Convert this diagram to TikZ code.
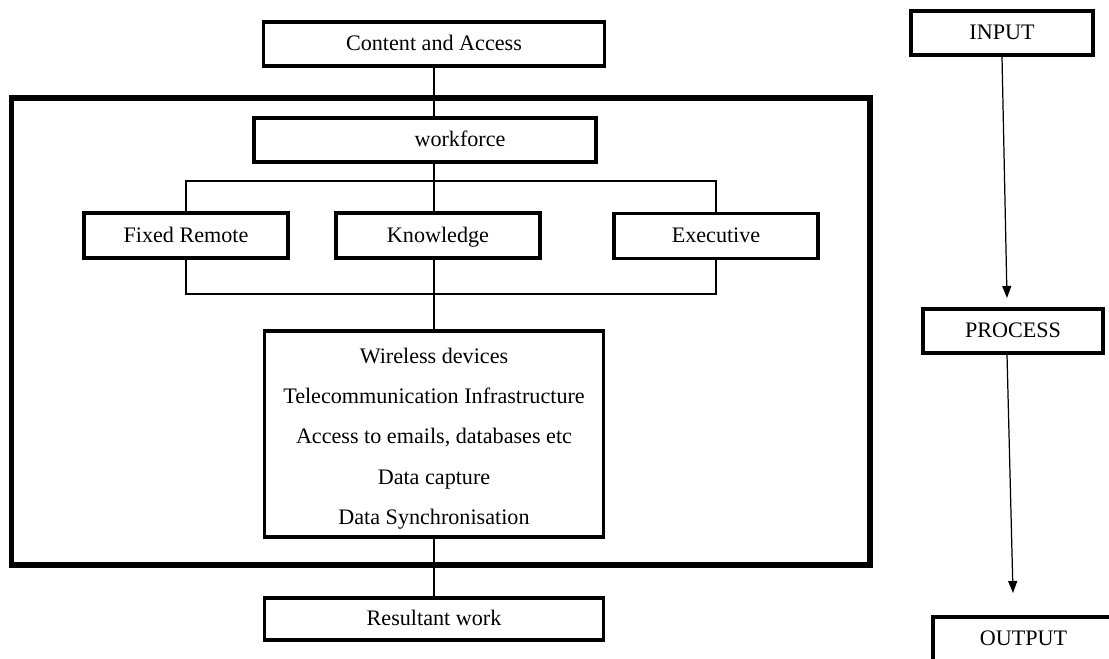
\documentclass[tikz,border=0pt]{standalone}
\usepackage{fontspec}
\setmainfont{Liberation Serif}
\usetikzlibrary{arrows.meta}

\begin{document}
\begin{tikzpicture}[x=0.02cm, y=-0.02cm,
    box/.style={draw, line width=2pt, fill=white, inner sep=0pt,
                font=\fontsize{12.6}{15}\selectfont},
    label box/.style={box, text height=10.5pt, text depth=3pt},
    conn/.style={line width=0.7pt},
    flow/.style={line width=0.7pt, -{Triangle[length=2.4mm, width=1.8mm]}}]
  \useasboundingbox (0,0) rectangle (1109,659);
  \clip (0,0) rectangle (1109,659);

  % Cornice
  \draw[line width=3.4pt] (11.5,98) rectangle (870,565);

  % Nodi
  \node[label box, minimum width=6.82cm, minimum height=0.88cm] (ca) at (434,44) {Content and Access};
  \node[label box, minimum width=6.84cm, minimum height=0.88cm] (wf) at (425,140) {\hspace*{1.4cm}workforce};
  \node[label box, minimum width=4.08cm, minimum height=0.9cm] (fr) at (186,235.5) {Fixed Remote};
  \node[label box, minimum width=4.08cm, minimum height=0.9cm] (kn) at (438,235.5) {Knowledge};
  \node[label box, minimum width=4.08cm, minimum height=0.9cm] (ex) at (716,236) {Executive};
  \node[box, minimum width=6.78cm, minimum height=4.12cm, align=center,
        font=\fontsize{12.6}{23}\selectfont, text height=106pt] (wd) at (434,434)
        {Wireless devices\\Telecommunication Infrastructure\\Access to emails, databases etc\\Data capture\\Data Synchronisation};
  \node[label box, minimum width=6.78cm, minimum height=0.84cm] (rw) at (434,619) {Resultant work};

  \node[label box, minimum width=3.64cm, minimum height=0.88cm] (in) at (1002,33) {INPUT};
  \node[label box, minimum width=3.6cm, minimum height=0.88cm] (pr) at (1013,331) {PROCESS};
  \node[label box, minimum width=3.62cm, minimum height=0.88cm] (out) at (1023.5,639) {OUTPUT};

  \coordinate (b1) at (434,181);
  \coordinate (b2) at (434,294);
  \coordinate (t1) at (1007,298);
  \coordinate (t2) at (1013,593);

  % Archi
  \draw[conn] (ca.south) -- (wf.north -| ca.south);
  \draw[conn] (wf.south -| ca.south) -- (kn.north -| ca.south);
  \draw[conn] (kn.south -| ca.south) -- (wd.north);
  \draw[conn] (wd.south) -- (rw.north);
  \draw[conn] (fr.north) |- (b1) -| (ex.north);
  \draw[conn] (fr.south) |- (b2) -| (ex.south);

  \draw[flow] (in.south) -- (t1);
  \draw[flow] ([xshift=-0.12cm]pr.south) -- (t2);
\end{tikzpicture}
\end{document}
